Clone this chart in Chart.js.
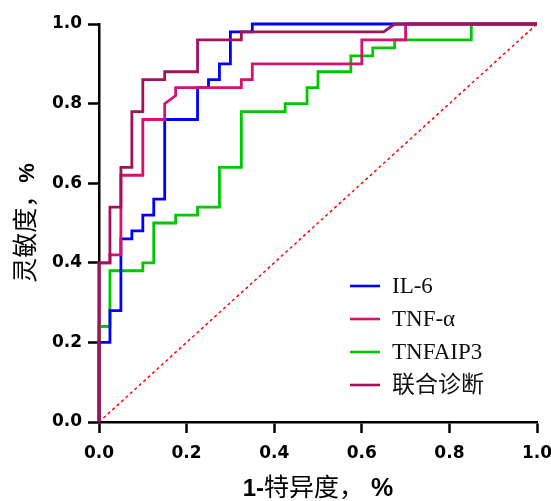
<!DOCTYPE html>
<html>
<head>
<meta charset="utf-8">
<script src="https://cdn.jsdelivr.net/npm/chart.js@4.4.1/dist/chart.umd.min.js"></script>
<style>
  html, body { margin: 0; padding: 0; background: #fff; }
  #wrap { width: 551px; height: 501px; }
</style>
</head>
<body>
<div id="wrap"><canvas id="roc"></canvas></div>
<script>
// ROC points (1-specificity, sensitivity)
const seriesNames = ['IL-6', 'TNF-α', 'TNFAIP3', '联合诊断'];

const il6X = [0, 0, 0.025, 0.025, 0.05, 0.05, 0.075, 0.075, 0.10, 0.10, 0.125, 0.125, 0.15, 0.15, 0.225, 0.225, 0.25, 0.25, 0.275, 0.275, 0.30, 0.30, 0.35, 0.35, 1.0];
const il6Y = [0, 0.20, 0.20, 0.28, 0.28, 0.46, 0.46, 0.48, 0.48, 0.52, 0.52, 0.56, 0.56, 0.76, 0.76, 0.84, 0.84, 0.86, 0.86, 0.90, 0.90, 0.98, 0.98, 1.0, 1.0];

const tnfX = [0, 0, 0.025, 0.025, 0.05, 0.05, 0.10, 0.10, 0.15, 0.15, 0.175, 0.175, 0.325, 0.325, 0.35, 0.35, 0.60, 0.60, 0.70, 0.70, 1.0];
const tnfY = [0, 0.40, 0.40, 0.42, 0.42, 0.62, 0.62, 0.76, 0.76, 0.80, 0.82, 0.84, 0.84, 0.86, 0.86, 0.90, 0.90, 0.96, 0.96, 1.0, 1.0];

const aip3X = [0, 0, 0.025, 0.025, 0.10, 0.10, 0.125, 0.125, 0.175, 0.175, 0.225, 0.225, 0.275, 0.275, 0.325, 0.325, 0.425, 0.425, 0.475, 0.475, 0.50, 0.50, 0.575, 0.575, 0.625, 0.625, 0.675, 0.675, 0.85, 0.85, 1.0];
const aip3Y = [0, 0.24, 0.24, 0.38, 0.38, 0.40, 0.40, 0.50, 0.50, 0.52, 0.52, 0.54, 0.54, 0.64, 0.64, 0.78, 0.78, 0.80, 0.80, 0.84, 0.84, 0.88, 0.88, 0.92, 0.92, 0.94, 0.94, 0.96, 0.96, 1.0, 1.0];

const comboX = [0, 0, 0.025, 0.025, 0.05, 0.05, 0.075, 0.075, 0.10, 0.10, 0.15, 0.15, 0.225, 0.225, 0.325, 0.325, 0.65, 0.675, 1.0];
const comboY = [0, 0.40, 0.40, 0.54, 0.54, 0.64, 0.64, 0.78, 0.78, 0.86, 0.86, 0.88, 0.88, 0.96, 0.96, 0.98, 0.98, 1.0, 1.0];

const refX = [0, 1];
const refY = [0, 1];

const axisTicks = [0, 0.2, 0.4, 0.6, 0.8, 1.0];

function toPoints(xs, ys) {
  return xs.map((x, i) => ({ x: x, y: ys[i] }));
}

function curve(label, xs, ys, color, order) {
  return {
    label: label,
    data: toPoints(xs, ys),
    borderColor: color,
    backgroundColor: color,
    borderWidth: 2.8,
    pointRadius: 0,
    tension: 0,
    showLine: true,
    clip: false,
    order: order,
    inLegend: true
  };
}

// legend drawn inside the plot, lower right
const legendBox = {
  id: 'legendBox',
  afterDraw(chart) {
    const ctx = chart.ctx;
    ctx.save();
    let y = 286;
    chart.data.datasets.filter(d => d.inLegend).forEach(ds => {
      ctx.strokeStyle = ds.borderColor;
      ctx.lineWidth = 2.6;
      ctx.beginPath();
      ctx.moveTo(350, y);
      ctx.lineTo(380, y);
      ctx.stroke();
      ctx.fillStyle = '#111';
      ctx.font = '23px "Liberation Serif", "Noto Sans CJK SC"';
      ctx.textBaseline = 'middle';
      ctx.fillText(ds.label, 392, y + 1);
      y += 33;
    });
    ctx.restore();
  }
};

// axis titles mix a bold latin font with plain CJK
function drawParts(ctx, parts, cx, baseY) {
  let total = 0;
  parts.forEach(p => { ctx.font = p[1]; total += ctx.measureText(p[0]).width; });
  let x = cx - total / 2;
  ctx.textAlign = 'left';
  ctx.textBaseline = 'alphabetic';
  parts.forEach(p => {
    ctx.font = p[1];
    ctx.fillText(p[0], x, baseY);
    x += ctx.measureText(p[0]).width;
  });
}

const axisTitles = {
  id: 'axisTitles',
  afterDraw(chart) {
    const ctx = chart.ctx;
    const area = chart.chartArea;
    ctx.save();
    ctx.fillStyle = '#000';
    drawParts(ctx, [
      ['1-', 'bold 24px "Liberation Sans"'],
      ['特异度，', '25px "Noto Sans CJK SC"'],
      [' %', 'bold 25px "Liberation Sans"']
    ], (area.left + area.right) / 2, 496);

    ctx.translate(34, (area.top + area.bottom) / 2);
    ctx.rotate(-Math.PI / 2);
    drawParts(ctx, [
      ['灵敏度，', '25px "Noto Sans CJK SC"'],
      ['%', 'bold 22px "Liberation Sans"']
    ], 0, 0);
    ctx.restore();
  }
};

function axis(fit, pad) {
  return {
    type: 'linear',
    min: 0,
    max: 1,
    afterFit: fit,
    afterBuildTicks: s => { s.ticks = axisTicks.map(v => ({ value: v })); },
    grid: {
      drawOnChartArea: false,
      drawTicks: true,
      tickLength: 11,
      tickWidth: 2.5,
      tickColor: '#000'
    },
    border: { display: true, color: '#000', width: 2.5 },
    ticks: {
      color: '#000',
      padding: pad,
      font: { family: '"DejaVu Sans"', weight: 'bold', size: 17 },
      callback: v => Number(v).toFixed(1)
    }
  };
}

new Chart(document.getElementById('roc'), {
  type: 'scatter',
  data: {
    datasets: [
      curve(seriesNames[0], il6X, il6Y, '#0000ff', 3),
      curve(seriesNames[1], tnfX, tnfY, '#d8106e', 2),
      curve(seriesNames[2], aip3X, aip3Y, '#00c800', 4),
      curve(seriesNames[3], comboX, comboY, '#a0125a', 1),
      {
        label: 'ref',
        data: toPoints(refX, refY),
        borderColor: '#ff0000',
        borderWidth: 1.5,
        borderDash: [3, 3],
        pointRadius: 0,
        showLine: true,
        clip: false,
        order: 6
      }
    ]
  },
  options: {
    responsive: true,
    maintainAspectRatio: false,
    animation: false,
    layout: { padding: { top: 24, right: 14, left: 0, bottom: 0 } },
    plugins: {
      legend: { display: false },
      tooltip: { enabled: false }
    },
    scales: {
      x: axis(s => { s.height = 79; s.paddingRight = 0; s.paddingLeft = 0; }, 10),
      y: axis(s => { s.width = 99; s.paddingTop = 0; s.paddingBottom = 0; }, 6)
    }
  },
  plugins: [legendBox, axisTitles]
});
</script>
</body>
</html>
